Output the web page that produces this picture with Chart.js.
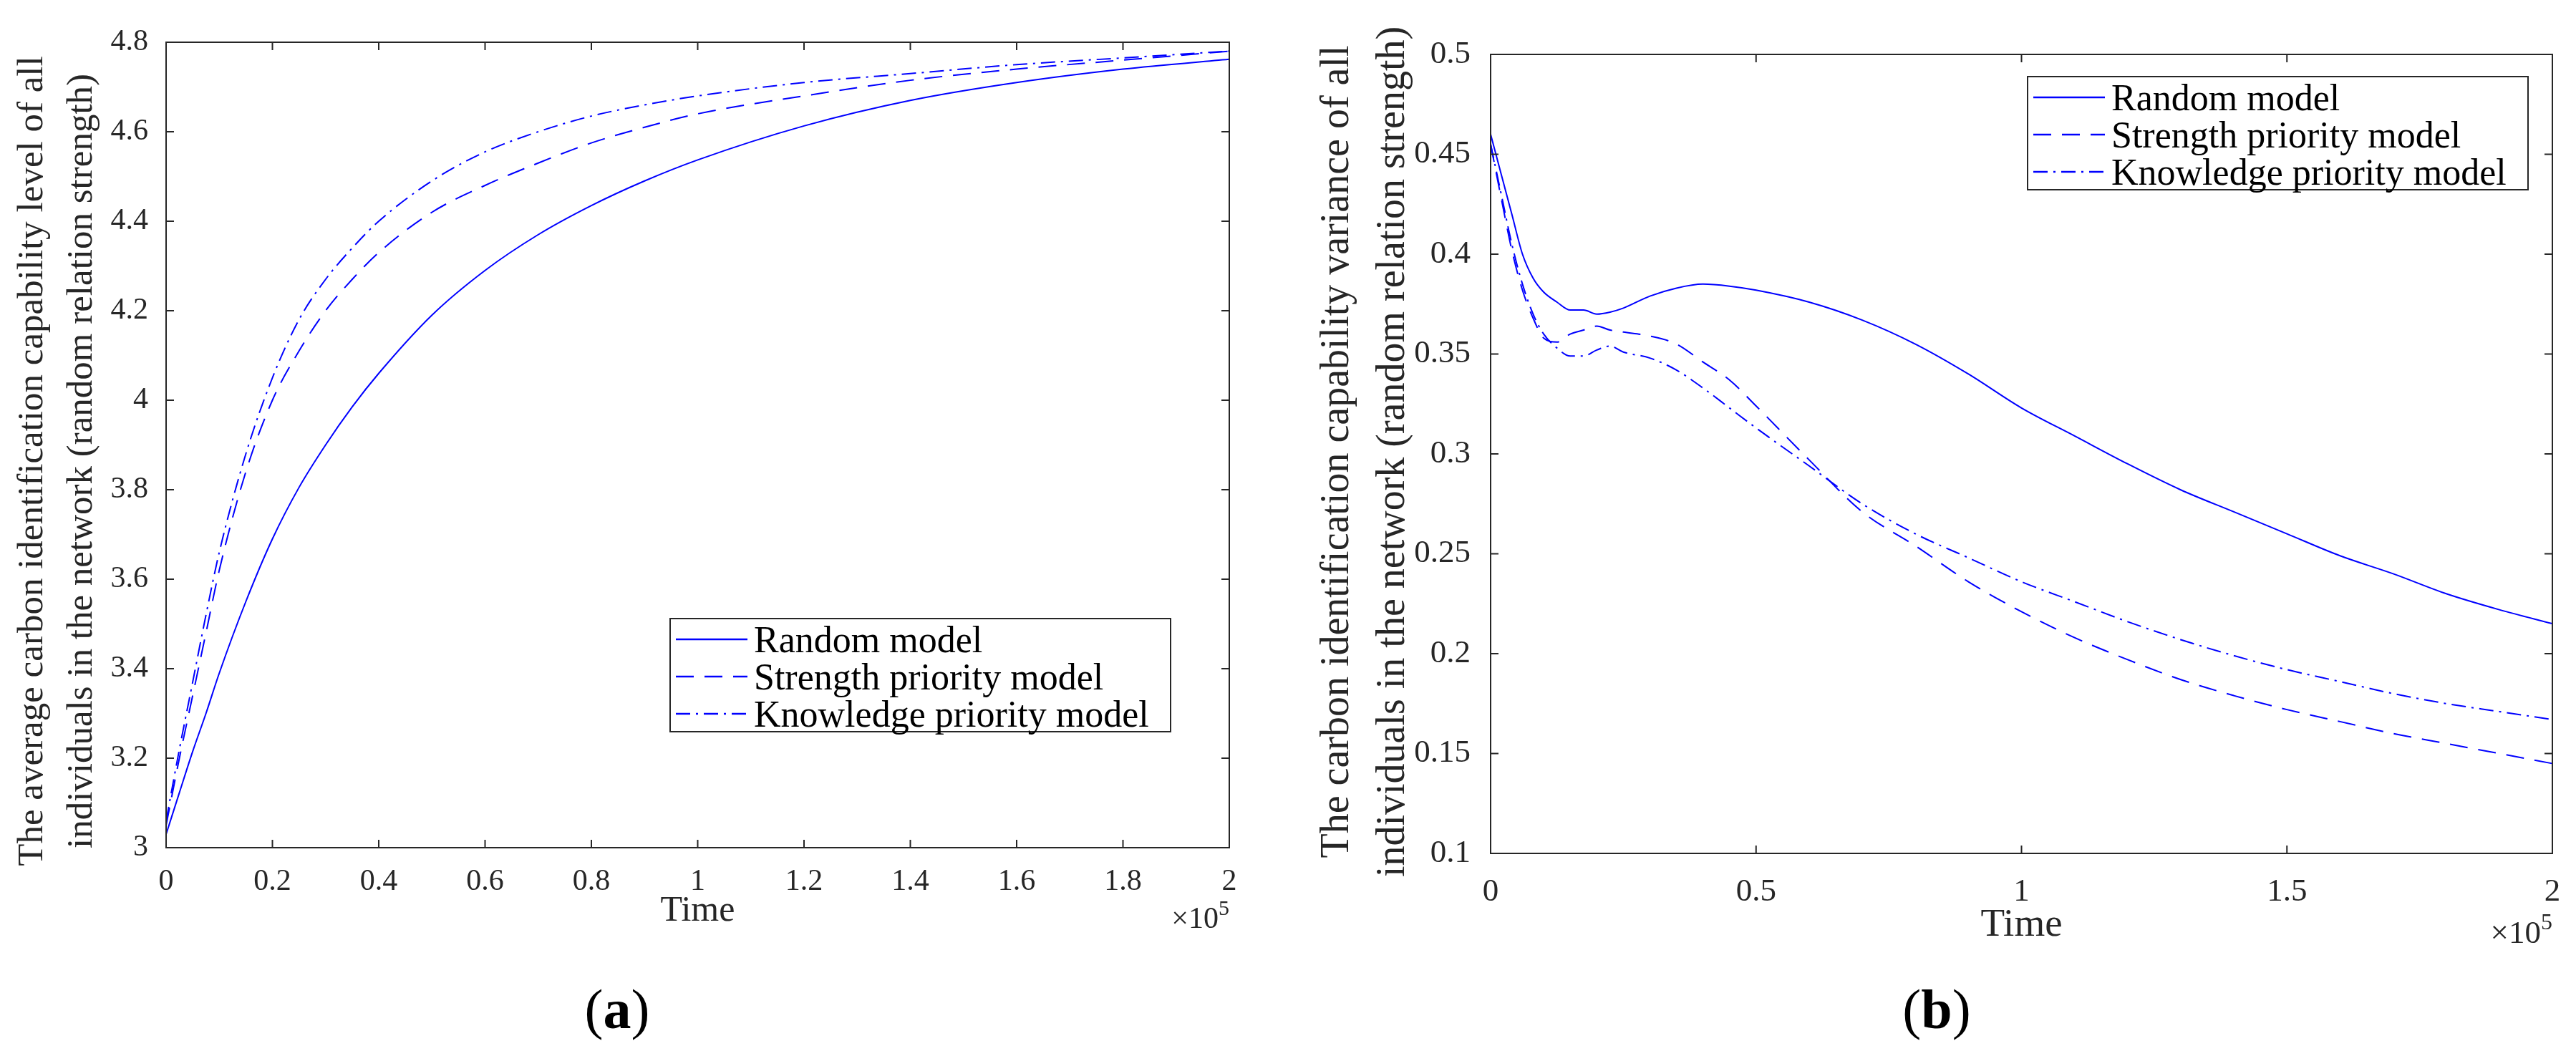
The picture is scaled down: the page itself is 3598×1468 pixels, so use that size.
<!DOCTYPE html>
<html>
<head>
<meta charset="utf-8">
<title>Carbon identification capability</title>
<script src="https://cdn.jsdelivr.net/npm/chart.js@4.4.0/dist/chart.umd.min.js"></script>
<style>
  html, body { margin: 0; padding: 0; background: #fff; }
  body { width: 3598px; height: 1468px; position: relative; overflow: hidden; font-family: "Liberation Serif", serif; }
  canvas { position: absolute; top: 0; }
  #chartA { left: 0; }
  #chartB { left: 1800px; }
  .legend { position: absolute; width: 701px; height: 160px; box-sizing: border-box; border: 2px solid #262626; background: #fff; }
  .legend-row { position: absolute; left: 7px; height: 52px; display: flex; align-items: center; font-size: 52px; color: #000; white-space: nowrap; }
  .legend-row svg { margin-right: 9px; }
  .caption { position: absolute; font-size: 78px; color: #000; transform: translate(-50%, -50%); white-space: nowrap; }
</style>
</head>
<body>
<canvas id="chartA" width="1800" height="1468"></canvas>
<canvas id="chartB" width="1798" height="1468"></canvas>
<div class="legend" id="legendA" style="left:935px; top:863px;"></div>
<div class="legend" id="legendB" style="left:2831px; top:106px;"></div>
<div class="caption" style="left:862px; top:1410px;">(<b>a</b>)</div>
<div class="caption" style="left:2705px; top:1410px;">(<b>b</b>)</div>
<script>
// ================== data ======================
const seriesNames = ["Random model", "Strength priority model", "Knowledge priority model"];

// (a) average level; time in units of 10^5
const timeA = [0, 0.025, 0.05, 0.075, 0.1, 0.15, 0.2, 0.25, 0.3, 0.35, 0.4, 0.5, 0.6, 0.7, 0.8, 0.9, 1.0, 1.2, 1.4, 1.6, 1.8, 2.0];
const randomA = [3.03, 3.123, 3.215, 3.30, 3.39, 3.55, 3.69, 3.805, 3.90, 3.985, 4.06, 4.19, 4.29, 4.37, 4.435, 4.49, 4.537, 4.613, 4.67, 4.71, 4.74, 4.762];
const strengthA = [3.05, 3.20, 3.34, 3.48, 3.62, 3.84, 4.00, 4.11, 4.20, 4.27, 4.33, 4.42, 4.48, 4.53, 4.575, 4.61, 4.64, 4.68, 4.715, 4.74, 4.76, 4.78];
const knowledgeA = [3.06, 3.22, 3.37, 3.52, 3.66, 3.88, 4.05, 4.18, 4.27, 4.34, 4.40, 4.49, 4.555, 4.60, 4.635, 4.66, 4.68, 4.71, 4.73, 4.75, 4.765, 4.78];

// (b) variance; time in units of 10^5
const timeB = [0, 0.02, 0.04, 0.06, 0.08, 0.1, 0.125, 0.15, 0.175, 0.2, 0.225, 0.25, 0.3, 0.35, 0.4, 0.45, 0.5, 0.6, 0.7, 0.8, 0.9, 1.0, 1.1, 1.2, 1.3, 1.4, 1.5, 1.6, 1.7, 1.8, 1.9, 2.0];
const randomB = [0.460, 0.44, 0.42, 0.40, 0.388, 0.381, 0.376, 0.372, 0.372, 0.370, 0.371, 0.373, 0.379, 0.383, 0.385, 0.384, 0.382, 0.376, 0.367, 0.355, 0.340, 0.323, 0.309, 0.295, 0.282, 0.271, 0.260, 0.249, 0.240, 0.230, 0.222, 0.215];
const strengthB = [0.455, 0.428, 0.402, 0.382, 0.368, 0.358, 0.356, 0.360, 0.362, 0.364, 0.362, 0.361, 0.359, 0.355, 0.346, 0.337, 0.324, 0.297, 0.271, 0.254, 0.236, 0.221, 0.208, 0.197, 0.187, 0.179, 0.172, 0.166, 0.160, 0.155, 0.150, 0.145];
const knowledgeB = [0.455, 0.43, 0.405, 0.385, 0.370, 0.360, 0.353, 0.349, 0.349, 0.352, 0.354, 0.351, 0.348, 0.342, 0.333, 0.323, 0.313, 0.294, 0.275, 0.260, 0.248, 0.236, 0.226, 0.216, 0.207, 0.199, 0.192, 0.186, 0.180, 0.175, 0.171, 0.167];

const titleA = ["The average carbon identification capability level of all", "individuals in the network (random relation strength)"];
const titleB = ["The carbon identification capability variance of all", "individuals in the network (random relation strength)"];
const xTitle = "Time";

// ================== styles ======================
const lineColor = "#0000ff";
const axisColor = "#262626";
const lineDashes = [[], [25, 15], [20, 8, 3, 8]];
const fontFamily = "\"Liberation Serif\", \"DejaVu Serif\", serif";

const fmt = (v) => String(Number(v.toFixed(2)));

// frame, inward ticks, rotated y title and the x10^5 note
function framePlugin(p) {
  return {
    id: "frame",
    afterDraw(chart) {
      const { ctx, chartArea: a, scales } = chart;
      ctx.save();
      ctx.strokeStyle = axisColor;
      ctx.lineWidth = 2;
      ctx.beginPath();
      scales.x.ticks.forEach((t) => {
        const px = scales.x.getPixelForValue(t.value);
        ctx.moveTo(px, a.bottom);
        ctx.lineTo(px, a.bottom - p.tickLen);
        ctx.moveTo(px, a.top);
        ctx.lineTo(px, a.top + p.tickLen);
      });
      scales.y.ticks.forEach((t) => {
        const py = scales.y.getPixelForValue(t.value);
        ctx.moveTo(a.left, py);
        ctx.lineTo(a.left + p.tickLen, py);
        ctx.moveTo(a.right, py);
        ctx.lineTo(a.right - p.tickLen, py);
      });
      ctx.stroke();
      ctx.strokeRect(a.left, a.top, a.right - a.left, a.bottom - a.top);

      // y axis title, two lines
      ctx.fillStyle = axisColor;
      ctx.font = p.yTitleSize + "px " + fontFamily;
      ctx.textAlign = "center";
      ctx.textBaseline = "middle";
      p.yTitle.forEach((line, i) => {
        ctx.save();
        ctx.translate(p.yTitleX[i], p.yTitleMid);
        ctx.rotate(-Math.PI / 2);
        ctx.fillText(line, 0, 0);
        ctx.restore();
      });

      // x10^5
      const sup = Math.round(p.tickSize * 0.72);
      ctx.textAlign = "right";
      ctx.textBaseline = "alphabetic";
      ctx.font = sup + "px " + fontFamily;
      const w5 = ctx.measureText("5").width;
      ctx.fillText("5", a.right, a.bottom + p.expBase - p.tickSize * 0.43);
      ctx.font = p.tickSize + "px " + fontFamily;
      ctx.fillText("\u00d710", a.right - w5, a.bottom + p.expBase);
      ctx.restore();
    },
  };
}

function makePanel(canvasId, p) {
  const tickFont = { family: fontFamily, size: p.tickSize };
  return new Chart(document.getElementById(canvasId), {
    type: "line",
    data: {
      datasets: p.series.map((ys, i) => ({
        label: seriesNames[i],
        data: p.time.map((t, k) => ({ x: t, y: ys[k] })),
        borderColor: lineColor,
        borderWidth: 2,
        borderDash: lineDashes[i],
        pointRadius: 0,
        cubicInterpolationMode: "monotone",
        fill: false,
      })),
    },
    options: {
      responsive: false,
      animation: false,
      layout: { padding: { left: 0, top: p.top, right: p.right, bottom: 0 } },
      plugins: { legend: { display: false }, tooltip: { enabled: false } },
      scales: {
        x: {
          type: "linear",
          min: 0,
          max: 2,
          grid: { display: false },
          border: { display: false },
          ticks: { stepSize: p.xStep, callback: fmt, font: tickFont, color: axisColor, padding: p.xTickPad, maxRotation: 0, autoSkip: false },
          title: { display: true, text: xTitle, color: axisColor, font: { family: fontFamily, size: p.xTitleSize }, padding: { top: 0, bottom: p.xTitlePad } },
          afterFit: (s) => { s.height = p.xBand; },
        },
        y: {
          min: p.yMin,
          max: p.yMax,
          grid: { display: false },
          border: { display: false },
          ticks: { stepSize: p.yStep, callback: fmt, font: tickFont, color: axisColor, padding: p.yTickPad, autoSkip: false },
          afterFit: (s) => { s.width = p.yBand; },
        },
      },
    },
    plugins: [framePlugin(p)],
  });
}

// ================== legends ======================
function buildLegend(id) {
  const box = document.getElementById(id);
  seriesNames.forEach((name, i) => {
    const row = document.createElement("div");
    row.className = "legend-row";
    row.style.top = (2 + i * 52) + "px";
    row.innerHTML = `<svg width="100" height="10"><line x1="0" y1="5" x2="100" y2="5" stroke="${lineColor}" stroke-width="2.4" stroke-dasharray="${lineDashes[i].join(" ") || "none"}"/></svg><span>${name}</span>`;
    box.appendChild(row);
  });
}

function drawAll() {
  makePanel("chartA", {
    time: timeA,
    series: [randomA, strengthA, knowledgeA],
    top: 59, right: 83, xBand: 284, yBand: 232,
    yMin: 3, yMax: 4.8, yStep: 0.2, xStep: 0.2,
    tickSize: 42, tickLen: 11, xTickPad: 15, yTickPad: 17,
    xTitleSize: 50, xTitlePad: 165,
    yTitle: titleA, yTitleSize: 51, yTitleX: [46, 115], yTitleMid: 644,
    expBase: 112,
  });

  makePanel("chartB", {
    time: timeB,
    series: [randomB, strengthB, knowledgeB],
    top: 76, right: 33, xBand: 276, yBand: 282,
    yMin: 0.1, yMax: 0.5, yStep: 0.05, xStep: 0.5,
    tickSize: 45, tickLen: 11, xTickPad: 19, yTickPad: 20,
    xTitleSize: 55, xTitlePad: 142,
    yTitle: titleB, yTitleSize: 56, yTitleX: [68, 146], yTitleMid: 631,
    expBase: 125,
  });
}

buildLegend("legendA");
buildLegend("legendB");

// make sure the serif face is ready before the canvases draw text
Promise.all([
  document.fonts.load("42px \"Liberation Serif\""),
  document.fonts.load("bold 42px \"Liberation Serif\""),
]).catch(() => {}).then(drawAll);
</script>
</body>
</html>
